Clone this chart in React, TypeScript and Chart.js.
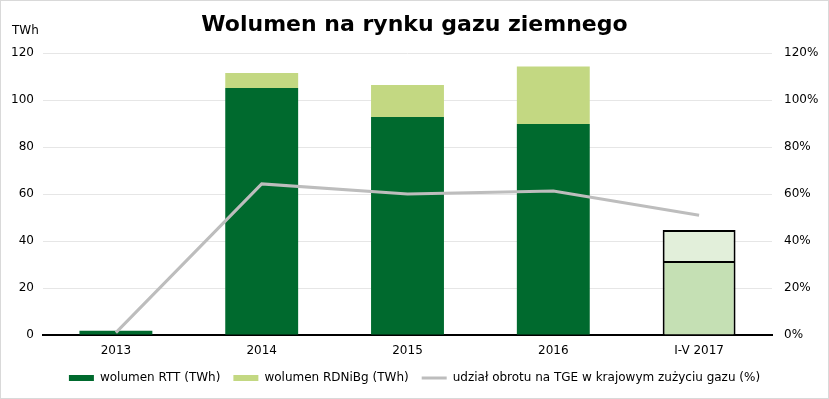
import React, { useEffect, useRef } from "react";
import { Chart, registerables } from "chart.js";

Chart.register(...registerables);

const categories = ["2013", "2014", "2015", "2016", "I-V 2017"];
const rttValues = [1.8, 105.1, 92.8, 89.8, 31.1];
const rdnValues = [0, 6.4, 13.6, 24.5, 13.6];
const shareValues = [1, 64.3, 60, 61.3, 51];
const leftTicks = [0, 20, 40, 60, 80, 100, 120];
const rightTicks = [0, 20, 40, 60, 80, 100, 120];

const FONT = "'DejaVu Sans', Verdana, sans-serif";
const DARK = "#006a2e";
const LIGHT = "#c3d882";
const DARK_2017 = "#c5e0b4";
const LIGHT_2017 = "#e2efda";
const GREY = "#bdbdbd";

const twhLabel = {
  id: "twhLabel",
  afterDraw(chart: any) {
    const { ctx, chartArea } = chart;
    const y = chart.scales.y;
    ctx.save();
    ctx.font = `12px ${FONT}`;
    ctx.fillStyle = "#000";
    ctx.textAlign = "left";
    ctx.textBaseline = "middle";
    ctx.fillText("TWh", chartArea.left - 31, y.getPixelForValue(120) - 22);
    ctx.restore();
  },
};

export default function App() {
  const ref = useRef<HTMLCanvasElement | null>(null);

  useEffect(() => {
    document.body.style.margin = "0";
    const lastIdx = categories.length - 1;
    const chart = new Chart(ref.current as HTMLCanvasElement, {
      type: "bar",
      data: {
        labels: categories,
        datasets: [
          {
            type: "bar",
            label: "wolumen RTT (TWh)",
            data: rttValues,
            backgroundColor: categories.map((_, i) => (i === lastIdx ? DARK_2017 : DARK)),
            borderColor: "#000",
            borderWidth: (c: any) =>
              c.dataIndex === lastIdx ? { top: 1, left: 2, right: 2, bottom: 0 } : 0,
            borderSkipped: false,
            yAxisID: "y",
            stack: "s",
            barPercentage: 0.5,
            categoryPercentage: 1,
            order: 1,
            pointStyle: "rect",
          } as any,
          {
            type: "bar",
            label: "wolumen RDNiBg (TWh)",
            data: rdnValues,
            backgroundColor: categories.map((_, i) => (i === lastIdx ? LIGHT_2017 : LIGHT)),
            borderColor: "#000",
            borderWidth: (c: any) =>
              c.dataIndex === lastIdx ? { top: 2, left: 2, right: 2, bottom: 1 } : 0,
            borderSkipped: false,
            yAxisID: "y",
            stack: "s",
            barPercentage: 0.5,
            categoryPercentage: 1,
            order: 1,
            pointStyle: "rect",
          } as any,
          {
            type: "line",
            label: "udział obrotu na TGE w krajowym zużyciu gazu (%)",
            data: shareValues,
            borderColor: GREY,
            backgroundColor: GREY,
            borderWidth: 3,
            pointRadius: 0,
            tension: 0,
            yAxisID: "y1",
            order: 0,
            pointStyle: "line",
          } as any,
        ],
      },
      options: {
        animation: false,
        responsive: true,
        maintainAspectRatio: false,
        layout: { padding: { top: 0, bottom: 4, left: 0, right: 0 } },
        plugins: {
          tooltip: { enabled: false },
          title: {
            display: true,
            text: "Wolumen na rynku gazu ziemnego",
            color: "#000",
            font: { family: FONT, size: 22, weight: "bold" },
            padding: { top: 11, bottom: 14.6 },
          },
          legend: {
            position: "bottom",
            labels: {
              usePointStyle: true,
              pointStyleWidth: 25,
              boxHeight: 6,
              padding: 13,
              color: "#000",
              font: { family: FONT, size: 12 },
              sort: (a: any, b: any) => a.datasetIndex - b.datasetIndex,
            },
          },
        },
        scales: {
          x: {
            stacked: true,
            grid: { display: false, drawTicks: false },
            border: { display: true, color: "#000", width: 2 },
            ticks: { color: "#000", font: { family: FONT, size: 12 }, padding: 9 },
            afterFit: (s: any) => {
              s.height = 24;
            },
          },
          y: {
            stacked: true,
            position: "left",
            min: 0,
            max: 120,
            afterBuildTicks: (s: any) => {
              s.ticks = leftTicks.map((v) => ({ value: v }));
            },
            ticks: { color: "#000", font: { family: FONT, size: 12 }, padding: 9 },
            grid: { color: "#e6e6e6", drawTicks: false },
            border: { display: false },
            afterFit: (s: any) => {
              s.width = 42;
            },
          },
          y1: {
            position: "right",
            min: 0,
            max: 120,
            afterBuildTicks: (s: any) => {
              s.ticks = rightTicks.map((v) => ({ value: v }));
            },
            ticks: {
              color: "#000",
              font: { family: FONT, size: 12 },
              padding: 12,
              callback: (v: any) => `${v}%`,
            },
            grid: { display: false, drawTicks: false },
            border: { display: false },
            afterFit: (s: any) => {
              s.width = 56;
            },
          },
        },
      } as any,
      plugins: [twhLabel],
    });
    return () => chart.destroy();
  }, []);

  return (
    <div
      style={{
        width: 829,
        height: 399,
        boxSizing: "border-box",
        border: "1px solid #d9d9d9",
        background: "#fff",
      }}
    >
      <div style={{ position: "relative", width: 827, height: 397 }}>
        <canvas ref={ref} />
      </div>
    </div>
  );
}
